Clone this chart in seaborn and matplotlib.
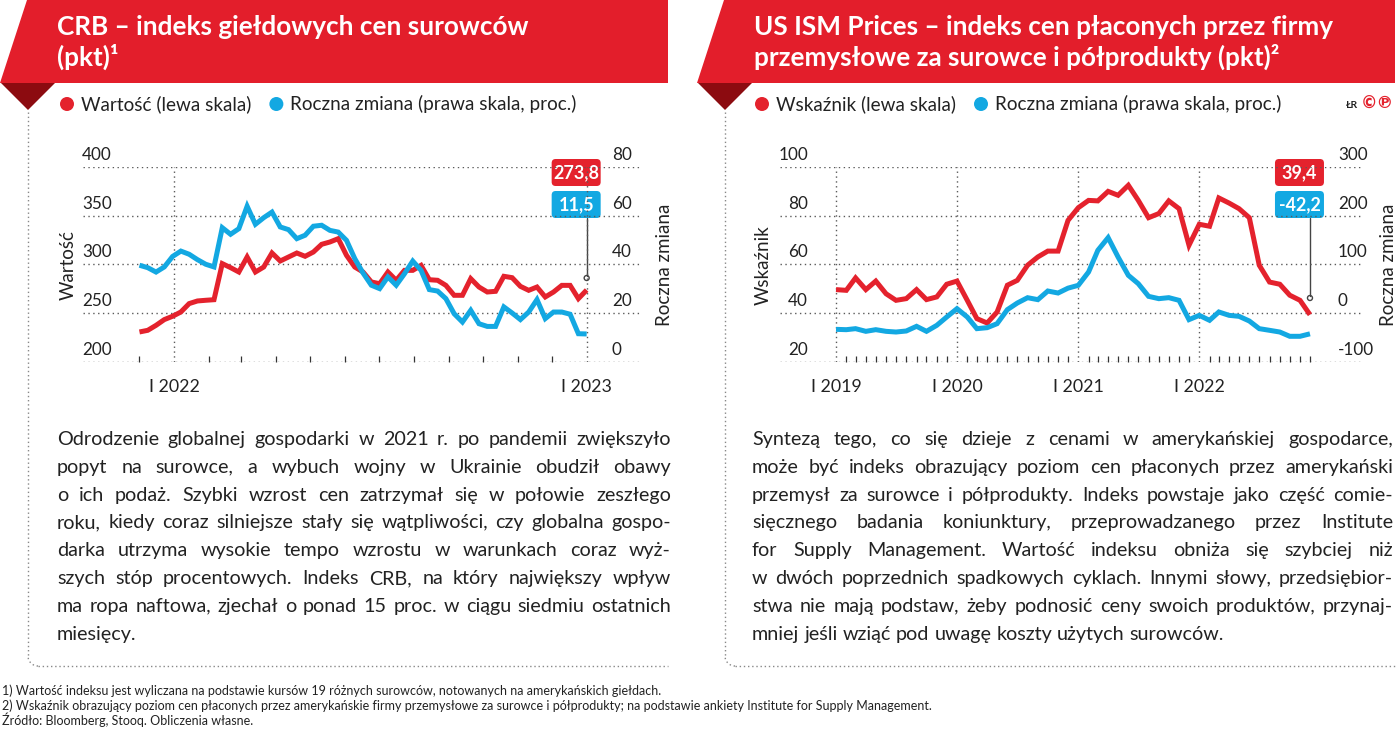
import numpy as np
import pandas as pd
import matplotlib
matplotlib.use('Agg')
import matplotlib.pyplot as plt
import matplotlib.transforms as mtransforms
from matplotlib.patches import Polygon, Circle, FancyBboxPatch, Arc
from matplotlib.lines import Line2D
from matplotlib.ticker import FixedLocator, FixedFormatter
import seaborn as sns

# ---------------- data ----------------
crb_dates = pd.date_range('2021-12-01', '2023-01-01', periods=55)
crb_value = [230.8, 232.5, 237.6, 243.5, 246.9, 251.3, 259.9, 262.6, 263.3, 263.9,
             300.9, 296.8, 292.3, 307.7, 292.3, 297.4, 311.8, 303.6, 307.7, 311.8,
             308.4, 312.8, 320.7, 323.1, 326.5, 309.4, 297.4, 292.3,
             282.1, 280.3, 292.3, 283.8, 294.0, 294.0, 299.1, 284.4, 283.8, 278.6,
             268.4, 268.4, 285.5, 276.9, 271.8, 272.5, 287.9, 286.5, 277.6, 273.5,
             276.9, 266.7, 271.8, 278.6, 278.6, 265.0, 273.8]
crb_change = [39.7, 38.7, 36.9, 39.0, 43.3, 45.5, 44.2, 42.0, 40.1, 39.0,
              55.1, 52.4, 54.7, 63.9, 56.5, 59.2, 61.5, 55.4, 54.3, 50.6,
              52.0, 55.7, 56.1, 54.0, 53.3, 49.9, 42.4, 36.5,
              31.5, 30.1, 34.9, 31.5, 36.2, 41.4, 37.6, 29.7, 29.1, 26.0,
              19.8, 16.4, 21.2, 15.7, 14.6, 14.6, 22.6, 20.1, 17.4, 20.5,
              25.6, 17.8, 20.5, 20.5, 19.6, 11.6, 11.5]

ism_dates = pd.date_range('2019-01-01', '2022-12-01', freq='MS')
ism_value = [49.7, 49.4, 54.5, 49.7, 53.2, 48.0, 45.3, 46.0, 49.7, 45.6, 46.7, 51.9,
             53.2, 45.3, 37.8, 36.0, 40.5, 51.5, 53.5, 59.7, 63.1, 65.5, 65.5, 78.1,
             83.3, 86.3, 86.1, 90.0, 88.4, 92.5, 86.3, 79.2, 80.9, 86.1, 82.9, 67.9,
             76.5, 75.7, 87.3, 85.2, 82.9, 79.2, 59.7, 52.8, 51.9, 47.4, 45.3, 39.4]
ism_change = [-33.0, -33.7, -31.6, -37.1, -33.7, -37.1, -38.5, -36.4, -26.8, -37.1, -24.8, -7.7,
              9.4, -7.7, -31.6, -29.6, -21.4, 7.4, 21.0, 31.9, 27.9, 45.6, 41.5, 51.5,
              57.3, 84.6, 129.1, 155.1, 115.4, 77.8, 60.7, 34.7, 29.9, 32.0, 26.5, -13.1,
              -4.3, -14.5, 2.6, -4.3, -6.3, -15.9, -31.6, -35.0, -38.5, -47.3, -47.3, -42.2]

crb_yticks_l = [200, 250, 300, 350, 400]
crb_yticks_r = [0, 20, 40, 60, 80]
ism_yticks_l = [20, 40, 60, 80, 100]
ism_yticks_r = [-100, 0, 100, 200, 300]
crb_years = ['2022-01-01', '2023-01-01']
ism_years = ['2019-01-01', '2020-01-01', '2021-01-01', '2022-01-01']

crb_last_labels = ['273,8', '11,5']
ism_last_labels = ['39,4', '-42,2']

title_left = ['CRB – indeks giełdowych cen surowców', '(pkt)¹']
title_right = ['US ISM Prices – indeks cen płaconych przez firmy',
               'przemysłowe za surowce i półprodukty (pkt)²']
legend_left = ['Wartość (lewa skala)', 'Roczna zmiana (prawa skala, proc.)']
legend_right = ['Wskaźnik (lewa skala)', 'Roczna zmiana (prawa skala, proc.)']

body_left = [
    'Odrodzenie globalnej gospodarki w 2021 r. po pandemii zwiększyło',
    'popyt na surowce, a wybuch wojny w Ukrainie obudził obawy',
    'o ich podaż. Szybki wzrost cen zatrzymał się w połowie zeszłego',
    'roku, kiedy coraz silniejsze stały się wątpliwości, czy globalna gospo-',
    'darka utrzyma wysokie tempo wzrostu w warunkach coraz wyż-',
    'szych stóp procentowych. Indeks CRB, na który największy wpływ',
    'ma ropa naftowa, zjechał o ponad 15 proc. w ciągu siedmiu ostatnich',
    'miesięcy.']
body_right = [
    'Syntezą tego, co się dzieje z cenami w amerykańskiej gospodarce,',
    'może być indeks obrazujący poziom cen płaconych przez amerykański',
    'przemysł za surowce i półprodukty. Indeks powstaje jako część comie-',
    'sięcznego badania koniunktury, przeprowadzanego przez Institute',
    'for Supply Management. Wartość indeksu obniża się szybciej niż',
    'w dwóch poprzednich spadkowych cyklach. Innymi słowy, przedsiębior-',
    'stwa nie mają podstaw, żeby podnosić ceny swoich produktów, przynaj-',
    'mniej jeśli wziąć pod uwagę koszty użytych surowców.']
footnotes = [
    '1) Wartość indeksu jest wyliczana na podstawie kursów 19 różnych surowców, notowanych na amerykańskich giełdach.',
    '2) Wskaźnik obrazujący poziom cen płaconych przez amerykańskie firmy przemysłowe za surowce i półprodukty; na podstawie ankiety Institute for Supply Management.',
    'Źródło: Bloomberg, Stooq. Obliczenia własne.']

# ---------------- style ----------------
sns.set_theme(style='white')
FAM = ['Lato', 'DejaVu Sans']
plt.rcParams['font.family'] = FAM

RED = '#E4222D'
BLUE = '#13A8E2'
BANNER = '#E31E2B'
DARKRED = '#8C0B10'
DARK = '#222222'
GRID = '#5a5a5a'
W, H = 1400, 733

fig = plt.figure(figsize=(W / 100, H / 100), dpi=100)
fig.patch.set_facecolor('white')
bg = fig.add_axes([0, 0, 1, 1], zorder=0)
bg.set_xlim(0, W)
bg.set_ylim(H, 0)
bg.axis('off')


def px_axes(x0, x1, y0, y1):
    return fig.add_axes([x0 / W, 1 - y1 / H, (x1 - x0) / W, (y1 - y0) / H], zorder=2)


def banner(x_left, x_right, tri_x, title_lines, title_x):
    bg.add_patch(Polygon([(x_left + 27, 0), (x_right, 0), (x_right, 83), (x_left, 83)],
                         closed=True, color=BANNER, lw=0))
    bg.add_patch(Polygon([(x_left + 1, 83), (x_left + 55, 83), (tri_x, 110)],
                         closed=True, color=DARKRED, lw=0))
    for i, t in enumerate(title_lines):
        bg.text(title_x, 35 + 31 * i, t, color='white', fontsize=18.8, fontweight='bold',
                va='baseline', ha='left', family=FAM)


def legend_row(x0, labels):
    x = x0
    r = fig.canvas.get_renderer()
    for lab, col in zip(labels, [RED, BLUE]):
        bg.add_patch(Circle((x, 104), 7, color=col, lw=0))
        t = bg.text(x + 14, 104, lab, fontsize=13.6, color=DARK, va='center', ha='left')
        w = t.get_window_extent(r).width
        x = x + 14 + w + 25


def panel_border(x, x_end):
    kw = dict(color='#888888', lw=1, ls=(0, (1, 2)))
    bg.add_line(Line2D([x, x], [112, 656], **kw))
    bg.add_patch(Arc((x + 10, 656), 20, 20, theta1=90, theta2=180, **kw))
    bg.add_line(Line2D([x + 10, x_end], [666, 666], **kw))


def chart(x0, x1, xlim, dates, red, blue, ylim_l, yt_l, ylim_r, yt_r, years, minors,
          lab_l_px, lab_r_px, ylab_l, ylab_l_x, ylab_r_x, last_labels, circle_y):
    ax = px_axes(x0, x1, 167, 362)
    ax.patch.set_alpha(0)
    df = pd.DataFrame({'date': dates, 'red': red, 'blue': blue})
    sns.lineplot(data=df, x='date', y='red', ax=ax, color=RED, lw=3.6,
                 solid_joinstyle='miter', solid_capstyle='butt')
    ax2 = ax.twinx()
    sns.lineplot(data=df, x='date', y='blue', ax=ax2, color=BLUE, lw=3.6,
                 solid_joinstyle='miter', solid_capstyle='butt')
    for a in (ax, ax2):
        a.set_xlabel('')
        a.set_ylabel('')
        for s in a.spines.values():
            s.set_visible(False)
    ax.set_xlim(pd.Timestamp(xlim[0]), pd.Timestamp(xlim[1]))
    ax.set_ylim(*ylim_l)
    ax2.set_ylim(*ylim_r)
    ax.set_yticks(yt_l)
    ax2.set_yticks(yt_r)
    ax.tick_params(axis='y', left=False, labelleft=False)
    ax2.tick_params(axis='y', right=False, labelright=False)
    maj = [pd.Timestamp(y) for y in years]
    ax.xaxis.set_major_locator(FixedLocator([matplotlib.dates.date2num(d) for d in maj]))
    ax.xaxis.set_major_formatter(FixedFormatter(['I ' + str(d.year) for d in maj]))
    ax.xaxis.set_minor_locator(FixedLocator([matplotlib.dates.date2num(d) for d in minors]))
    ax.tick_params(axis='x', which='major', length=0, pad=12, labelsize=12.8, labelcolor=DARK)
    ax.tick_params(axis='x', which='minor', direction='in', length=4, width=0.9,
                   color='#333333', bottom=True)
    ax.grid(True, axis='y', color=GRID, lw=1, ls=(0, (1, 2.5)))
    ax.grid(True, axis='x', which='major', color=GRID, lw=1, ls=(0, (1, 2.5)))
    ax.set_axisbelow(True)
    for v in yt_l:
        ax.text(lab_l_px, v, str(v), transform=mtransforms.blended_transform_factory(
            mtransforms.IdentityTransform(),
            mtransforms.offset_copy(ax.transData, fig=fig, y=4, units='dots')),
            ha='right', va='bottom', fontsize=12.3, color=DARK)
    for v in yt_r:
        ax2.text(lab_r_px, v, str(v), transform=mtransforms.blended_transform_factory(
            mtransforms.IdentityTransform(),
            mtransforms.offset_copy(ax2.transData, fig=fig, y=4, units='dots')),
            ha='left', va='bottom', fontsize=12.3, color=DARK)
    fig.text(ylab_l_x / W, 1 - 265 / H, ylab_l, rotation=90, ha='center', va='center',
             fontsize=13.5, color=DARK)
    fig.text(ylab_r_x / W, 1 - 265 / H, 'Roczna zmiana', rotation=90, ha='center',
             va='center', fontsize=13.5, color=DARK)
    # annotation for last point
    disp = ax.transData.transform((matplotlib.dates.date2num(dates[-1]), ylim_l[0]))
    xl = bg.transData.inverted().transform(disp)[0]
    for (lab, col, ytop) in zip(last_labels, [RED, BLUE], [159, 191]):
        bg.add_patch(FancyBboxPatch((xl - 33, ytop + 2), 45, 23,
                                    boxstyle='round,pad=2,rounding_size=4',
                                    color=col, lw=0, zorder=5))
        bg.text(xl - 10.5, ytop + 14, lab, color='white', fontsize=13,
                fontweight='bold', ha='center', va='center', zorder=6)
    bg.add_line(Line2D([xl, xl], [218, circle_y - 2.5], color='#444444', lw=1, zorder=5))
    bg.add_patch(Circle((xl, circle_y), 2.5, fill=False, ec='#444444', lw=1, zorder=5))
    return ax, ax2


# left chart
chart(83, 642, ('2021-10-12', '2023-02-19'), crb_dates, crb_value, crb_change,
      (200, 400), crb_yticks_l, (0, 80), crb_yticks_r, crb_years,
      pd.date_range('2021-12-01', '2023-01-01', freq='MS'),
      112, 612, 'Wartość', 68, 664, crb_last_labels, 278)
# right chart
chart(780, 1363, ('2018-07-16', '2023-05-10'), ism_dates, ism_value, ism_change,
      (20, 100), ism_yticks_l, (-100, 300), ism_yticks_r, ism_years,
      pd.date_range('2019-01-01', '2022-12-01', freq='MS'),
      808, 1338, 'Wskaźnik', 763, 1388, ism_last_labels, 298)

banner(0, 668, 28, title_left, 57)
banner(697, 1395, 725, title_right, 754)
legend_row(67, legend_left)
legend_row(762, legend_right)
bg.text(1358, 105, 'ŁR', fontsize=7.5, fontweight='bold', color=DARK, ha='right', va='center')
bg.text(1361, 104, '©℗', fontsize=12, fontweight='bold', color=RED, ha='left', va='center',
        family=['DejaVu Sans'])

panel_border(28, 668)
panel_border(725, 1395)


def justify(lines, x0, x1, y0, step, size):
    r = fig.canvas.get_renderer()
    sp = bg.text(0, 0, 'a a', fontsize=size)
    sp2 = bg.text(0, 0, 'aa', fontsize=size)
    space = sp.get_window_extent(r).width - sp2.get_window_extent(r).width
    sp.remove()
    sp2.remove()
    for k, line in enumerate(lines):
        y = y0 + step * k
        words = line.split(' ')
        ts = [bg.text(0, y, w, fontsize=size, color=DARK, va='baseline', ha='left')
              for w in words]
        ws = [t.get_window_extent(r).width for t in ts]
        if k == len(lines) - 1 or len(words) == 1:
            gap = space
        else:
            gap = (x1 - x0 - sum(ws)) / (len(words) - 1)
        x = x0
        for t, w in zip(ts, ws):
            t.set_x(x)
            x += w + gap


justify(body_left, 57, 671, 445, 27.8, 14.2)
justify(body_right, 752, 1393, 445, 27.8, 14.2)

for i, t in enumerate(footnotes):
    bg.text(2, 695 + 15 * i, t, fontsize=9.0, color=DARK, va='baseline', ha='left')

fig.savefig('out.png', dpi=100)
